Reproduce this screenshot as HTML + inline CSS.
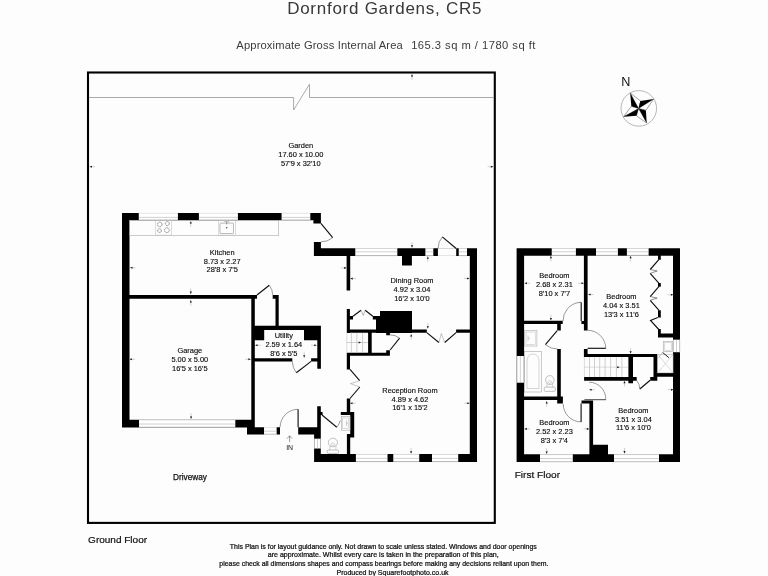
<!DOCTYPE html>
<html><head><meta charset="utf-8"><style>
html,body{margin:0;padding:0;background:#fdfdfd;}
svg{display:block;filter:grayscale(1);}
text{font-family:"Liberation Sans",sans-serif;}
</style></head><body>
<svg width="768" height="576" viewBox="0 0 768 576">
<rect width="768" height="576" fill="#fdfdfd"/>
<path fill="#000" d="M122,213H320.9V220.3H122ZM313.4,220H320.9V223.4H313.4ZM122,213H129.5V427.5H122ZM313.9,241.9H320.9V255.6H313.9ZM313.9,248.2H477V255.9H313.9ZM402,255H411.9V265.4H402ZM469.8,248.3H477V461.9H469.8ZM346.6,255.5H350.2V290.6H346.6ZM129.5,294.9H257V298.8H129.5ZM251.3,294.9H254.8V427.5H251.3ZM272.7,294.9H278.7V298.8H272.7ZM275.5,294.9H278.7V326H275.5ZM122,419.8H254.8V427.5H122ZM254.8,325.8H320.9V330H254.8ZM254.8,325.8H264.2V340.3H254.8ZM304,325.8H320.9V340.3H304ZM317.3,325.8H320.9V368.8H317.3ZM254.8,358.3H292.3V361.4H254.8ZM311.1,358.3H320.9V361.4H311.1ZM247,427.2H264.2V434.5H247ZM276.4,427.2H280V434.5H276.4ZM298.2,427.2H320.8V434.5H298.2ZM317.2,406.2H320.8V427.2H317.2ZM320.8,412H322.6V415H320.8ZM314.1,434.5H320.8V461.6H314.1ZM314.1,454.1H477V461.9H314.1ZM346.9,399.2H350.2V412H346.9ZM340.8,412H354.2V415.1H340.8ZM350.2,412H354.2V437.5H350.2ZM346.9,433.9H354.2V437.5H346.9ZM346.9,433.9H350.2V454.5H346.9ZM346.8,309H349.9V333H346.8ZM349.9,316H353V319.4H349.9ZM372.8,316H376V319.4H372.8ZM376,316H380V333H376ZM380,311.1H412V333H380ZM346.8,329.6H426.8V332.7H346.8ZM368.1,332.7H371.7V355.7H368.1ZM346.8,352.8H389.7V355.8H346.8ZM386.2,350.3H389.9V355.8H386.2ZM386.2,332.7H389.9V335.2H386.2ZM346.8,355.8H350V369.4H346.8ZM456.1,329.6H469.8V332.7H456.1ZM346.8,398.6H350.2V412H346.8ZM516.6,248.2H680V255.7H516.6ZM516.6,248.2H524.1V462H516.6ZM673,248.2H680V462H673ZM516.6,454.3H680V462H516.6ZM590.8,444.8H608V454.4H590.8ZM583.9,255.5H587.6V330.5H583.9ZM524.1,320.8H562.7V324H524.1ZM581.4,320.9H583.9V324H581.4ZM557.2,324H560.8V330.5H557.2ZM557.2,349H560.8V403.4H557.2ZM524.1,396.4H560.8V400H524.1ZM557.2,396.4H562.9V403.6H557.2ZM583.9,348.9H587.6V357.1H583.9ZM583.9,354H657.3V357H583.9ZM628.4,357.1H633V383.3H628.4ZM584.1,377.1H636.7V380.7H584.1ZM653.5,354H657.3V380.7H653.5ZM650.2,376.9H657.3V380.7H650.2ZM658,333.6H673.4V337.5H658ZM658,328.9H660.8V337.5H658ZM658,255.5H660.8V259.7H658ZM658,283.1H660.8V286.7H658ZM658,310.2H660.8V317.5H658ZM653.5,372.9H673.4V376.8H653.5ZM581.5,400.4H593.1V403.6H581.5ZM589.4,400.4H593.1V454.4H589.4Z"/>
<rect x="138.8" y="213" width="39.1" height="7.3" fill="#fff"/>
<line x1="138.8" y1="213.35" x2="177.9" y2="213.35" stroke="#d4d4d4" stroke-width="0.6"/>
<line x1="138.8" y1="220" x2="177.9" y2="220" stroke="#a0a0a0" stroke-width="0.7"/>
<line x1="138.8" y1="217.38" x2="177.9" y2="217.38" stroke="#b0b0b0" stroke-width="0.6"/>
<rect x="198.9" y="213" width="39" height="7.3" fill="#fff"/>
<line x1="198.9" y1="213.35" x2="237.9" y2="213.35" stroke="#d4d4d4" stroke-width="0.6"/>
<line x1="198.9" y1="220" x2="237.9" y2="220" stroke="#a0a0a0" stroke-width="0.7"/>
<line x1="198.9" y1="217.38" x2="237.9" y2="217.38" stroke="#b0b0b0" stroke-width="0.6"/>
<rect x="281.6" y="213" width="28.7" height="7.3" fill="#fff"/>
<line x1="281.6" y1="213.35" x2="310.3" y2="213.35" stroke="#d4d4d4" stroke-width="0.6"/>
<line x1="281.6" y1="220" x2="310.3" y2="220" stroke="#a0a0a0" stroke-width="0.7"/>
<line x1="281.6" y1="217.38" x2="310.3" y2="217.38" stroke="#b0b0b0" stroke-width="0.6"/>
<rect x="355.3" y="248.2" width="42" height="7.7" fill="#fff"/>
<line x1="355.3" y1="248.55" x2="397.3" y2="248.55" stroke="#d4d4d4" stroke-width="0.6"/>
<line x1="355.3" y1="255.6" x2="397.3" y2="255.6" stroke="#a0a0a0" stroke-width="0.7"/>
<line x1="355.3" y1="251.82" x2="397.3" y2="251.82" stroke="#b0b0b0" stroke-width="0.6"/>
<rect x="425.4" y="248.2" width="7.9" height="7.7" fill="#fff"/>
<line x1="425.4" y1="248.55" x2="433.3" y2="248.55" stroke="#d4d4d4" stroke-width="0.6"/>
<line x1="425.4" y1="255.6" x2="433.3" y2="255.6" stroke="#a0a0a0" stroke-width="0.7"/>
<line x1="425.4" y1="251.82" x2="433.3" y2="251.82" stroke="#b0b0b0" stroke-width="0.6"/>
<rect x="437.9" y="248.2" width="18.3" height="7.7" fill="#fdfdfd"/>
<rect x="458.75" y="248.2" width="8.25" height="7.7" fill="#fff"/>
<line x1="458.75" y1="248.55" x2="467" y2="248.55" stroke="#d4d4d4" stroke-width="0.6"/>
<line x1="458.75" y1="255.6" x2="467" y2="255.6" stroke="#a0a0a0" stroke-width="0.7"/>
<line x1="458.75" y1="251.82" x2="467" y2="251.82" stroke="#b0b0b0" stroke-width="0.6"/>
<rect x="139" y="419.8" width="96.3" height="7.7" fill="#fff"/>
<line x1="139" y1="420.15" x2="235.3" y2="420.15" stroke="#d4d4d4" stroke-width="0.6"/>
<line x1="139" y1="427.2" x2="235.3" y2="427.2" stroke="#a0a0a0" stroke-width="0.7"/>
<line x1="139" y1="424.04" x2="235.3" y2="424.04" stroke="#b0b0b0" stroke-width="0.6"/>
<rect x="264.2" y="427.2" width="12.2" height="7.3" fill="#fff"/>
<line x1="264.2" y1="427.55" x2="276.4" y2="427.55" stroke="#d4d4d4" stroke-width="0.6"/>
<line x1="264.2" y1="434.2" x2="276.4" y2="434.2" stroke="#a0a0a0" stroke-width="0.7"/>
<line x1="264.2" y1="431.21" x2="276.4" y2="431.21" stroke="#b0b0b0" stroke-width="0.6"/>
<rect x="314.1" y="438.7" width="6.7" height="9.8" fill="#fff"/>
<line x1="314.45" y1="438.7" x2="314.45" y2="448.5" stroke="#a0a0a0" stroke-width="0.7"/>
<line x1="320.45" y1="438.7" x2="320.45" y2="448.5" stroke="#a0a0a0" stroke-width="0.7"/>
<line x1="317.45" y1="438.7" x2="317.45" y2="448.5" stroke="#b0b0b0" stroke-width="0.6"/>
<rect x="355.9" y="454.1" width="31.6" height="7.8" fill="#fff"/>
<line x1="355.9" y1="454.45" x2="387.5" y2="454.45" stroke="#d4d4d4" stroke-width="0.6"/>
<line x1="355.9" y1="461.6" x2="387.5" y2="461.6" stroke="#a0a0a0" stroke-width="0.7"/>
<line x1="355.9" y1="458.39" x2="387.5" y2="458.39" stroke="#b0b0b0" stroke-width="0.6"/>
<rect x="393.3" y="454.1" width="25.9" height="7.8" fill="#fff"/>
<line x1="393.3" y1="454.45" x2="419.2" y2="454.45" stroke="#d4d4d4" stroke-width="0.6"/>
<line x1="393.3" y1="461.6" x2="419.2" y2="461.6" stroke="#a0a0a0" stroke-width="0.7"/>
<line x1="393.3" y1="458.39" x2="419.2" y2="458.39" stroke="#b0b0b0" stroke-width="0.6"/>
<rect x="432" y="454.1" width="26.2" height="7.8" fill="#fff"/>
<line x1="432" y1="454.45" x2="458.2" y2="454.45" stroke="#d4d4d4" stroke-width="0.6"/>
<line x1="432" y1="461.6" x2="458.2" y2="461.6" stroke="#a0a0a0" stroke-width="0.7"/>
<line x1="432" y1="458.39" x2="458.2" y2="458.39" stroke="#b0b0b0" stroke-width="0.6"/>
<rect x="551.75" y="248.2" width="24.15" height="7.5" fill="#fff"/>
<line x1="551.75" y1="248.55" x2="575.9" y2="248.55" stroke="#d4d4d4" stroke-width="0.6"/>
<line x1="551.75" y1="255.4" x2="575.9" y2="255.4" stroke="#a0a0a0" stroke-width="0.7"/>
<line x1="551.75" y1="251.72" x2="575.9" y2="251.72" stroke="#b0b0b0" stroke-width="0.6"/>
<rect x="596" y="248.2" width="21.9" height="7.5" fill="#fff"/>
<line x1="596" y1="248.55" x2="617.9" y2="248.55" stroke="#d4d4d4" stroke-width="0.6"/>
<line x1="596" y1="255.4" x2="617.9" y2="255.4" stroke="#a0a0a0" stroke-width="0.7"/>
<line x1="596" y1="251.72" x2="617.9" y2="251.72" stroke="#b0b0b0" stroke-width="0.6"/>
<rect x="626.9" y="248.2" width="21.7" height="7.5" fill="#fff"/>
<line x1="626.9" y1="248.55" x2="648.6" y2="248.55" stroke="#d4d4d4" stroke-width="0.6"/>
<line x1="626.9" y1="255.4" x2="648.6" y2="255.4" stroke="#a0a0a0" stroke-width="0.7"/>
<line x1="626.9" y1="251.72" x2="648.6" y2="251.72" stroke="#b0b0b0" stroke-width="0.6"/>
<rect x="516.6" y="356" width="7.5" height="26.7" fill="#fff"/>
<line x1="516.95" y1="356" x2="516.95" y2="382.7" stroke="#a0a0a0" stroke-width="0.7"/>
<line x1="523.75" y1="356" x2="523.75" y2="382.7" stroke="#a0a0a0" stroke-width="0.7"/>
<line x1="520.35" y1="356" x2="520.35" y2="382.7" stroke="#b0b0b0" stroke-width="0.6"/>
<rect x="673" y="339.7" width="7" height="12.5" fill="#fff"/>
<line x1="673.35" y1="339.7" x2="673.35" y2="352.2" stroke="#a0a0a0" stroke-width="0.7"/>
<line x1="679.65" y1="339.7" x2="679.65" y2="352.2" stroke="#a0a0a0" stroke-width="0.7"/>
<line x1="676.5" y1="339.7" x2="676.5" y2="352.2" stroke="#b0b0b0" stroke-width="0.6"/>
<rect x="540" y="454.3" width="32.8" height="7.7" fill="#fff"/>
<line x1="540" y1="454.65" x2="572.8" y2="454.65" stroke="#d4d4d4" stroke-width="0.6"/>
<line x1="540" y1="461.7" x2="572.8" y2="461.7" stroke="#a0a0a0" stroke-width="0.7"/>
<line x1="540" y1="458.54" x2="572.8" y2="458.54" stroke="#b0b0b0" stroke-width="0.6"/>
<rect x="614" y="454.3" width="45" height="7.7" fill="#fff"/>
<line x1="614" y1="454.65" x2="659" y2="454.65" stroke="#d4d4d4" stroke-width="0.6"/>
<line x1="614" y1="461.7" x2="659" y2="461.7" stroke="#a0a0a0" stroke-width="0.7"/>
<line x1="614" y1="458.54" x2="659" y2="458.54" stroke="#b0b0b0" stroke-width="0.6"/>
<text x="287.14" y="13.7" font-size="17.0" text-anchor="start" fill="#383838" textLength="194.25" lengthAdjust="spacing" >Dornford Gardens, CR5</text>
<text x="236.3" y="49.4" font-size="11.2" text-anchor="start" fill="#3a3a3a" textLength="166.53" lengthAdjust="spacing" >Approximate Gross Internal Area</text>
<text x="411.16" y="49.4" font-size="11.2" text-anchor="start" fill="#3a3a3a" textLength="124.23" lengthAdjust="spacing" >165.3 sq m / 1780 sq ft</text>
<rect x="88" y="72.5" width="406.8" height="450.4" fill="none" stroke="#000" stroke-width="2.1"/>
<path d="M89,97.5 H293.6 V110 L309.5,84.2 V97.5 H493.8" stroke="#a0a0a0" stroke-width="0.9" fill="none" />
<text x="300.8" y="148" font-size="7.45" text-anchor="middle" fill="#080808" stroke="#080808" stroke-width="0.12">Garden</text>
<text x="300.8" y="156.9" font-size="7.45" text-anchor="middle" fill="#080808" stroke="#080808" stroke-width="0.12">17.60 x 10.00</text>
<text x="300.8" y="165.8" font-size="7.45" text-anchor="middle" fill="#080808" stroke="#080808" stroke-width="0.12">57'9 x 32'10</text>
<line x1="412" y1="79.7" x2="412" y2="74.2" stroke="#aaa" stroke-width="0.55"/>
<polygon points="412,74.2 413.05,76.5 410.95,76.5" fill="#111"/>
<line x1="412" y1="242.1" x2="412" y2="247.6" stroke="#aaa" stroke-width="0.55"/>
<polygon points="412,247.6 410.95,245.3 413.05,245.3" fill="#111"/>
<line x1="95.1" y1="166.7" x2="89.6" y2="166.7" stroke="#aaa" stroke-width="0.55"/>
<polygon points="89.6,166.7 91.9,165.65 91.9,167.75" fill="#111"/>
<line x1="487.7" y1="166.7" x2="493.2" y2="166.7" stroke="#aaa" stroke-width="0.55"/>
<polygon points="493.2,166.7 490.9,167.75 490.9,165.65" fill="#111"/>
<circle cx="638.8" cy="108.4" r="17.8" fill="none" stroke="#999" stroke-width="0.7"/>
<text x="625.9" y="85.6" font-size="12.6" text-anchor="middle" fill="#111" >N</text>
<polygon points="630.2,93 640.76,101.21 638.6,108.5" fill="#fff" stroke="#444" stroke-width="0.5"/>
<polygon points="653.6,99 646.02,110.16 638.6,108.5" fill="#fff" stroke="#444" stroke-width="0.5"/>
<polygon points="646.7,123 636.53,115.81 638.6,108.5" fill="#fff" stroke="#444" stroke-width="0.5"/>
<polygon points="623.6,116.7 631.31,106.36 638.6,108.5" fill="#fff" stroke="#444" stroke-width="0.5"/>
<polygon points="630.2,93 631.31,106.34 638.6,108.5" fill="#000"/>
<polygon points="653.6,99 640.26,101.08 638.6,108.5" fill="#000"/>
<polygon points="646.7,123 645.91,110.57 638.6,108.5" fill="#000"/>
<polygon points="623.6,116.7 636.46,115.79 638.6,108.5" fill="#000"/>
<rect x="129.5" y="220.3" width="149.2" height="15" fill="none" stroke="#aaa" stroke-width="0.6"/>
<rect x="155.7" y="220.5" width="15.9" height="14.6" fill="none" stroke="#bbb" stroke-width="0.5"/>
<circle cx="159.8" cy="224.4" r="2.3" fill="none" stroke="#444" stroke-width="0.6" stroke-dasharray="1.2 0.5"/>
<circle cx="167.3" cy="223.6" r="2.0" fill="none" stroke="#444" stroke-width="0.6" stroke-dasharray="1.2 0.5"/>
<circle cx="159.5" cy="230.6" r="1.9" fill="none" stroke="#444" stroke-width="0.6" stroke-dasharray="1.2 0.5"/>
<circle cx="166.9" cy="230.2" r="2.4" fill="none" stroke="#444" stroke-width="0.6" stroke-dasharray="1.2 0.5"/>
<rect x="218.3" y="220.5" width="17.3" height="14.6" fill="none" stroke="#bbb" stroke-width="0.5"/>
<rect x="220" y="223.1" width="13.5" height="10.4" rx="0.8" fill="none" stroke="#777" stroke-width="0.5"/>
<circle cx="226.7" cy="227.8" r="0.7" fill="#333"/>
<path d="M224.6,222.2 L225.6,221 M228.8,222.2 L227.8,221 M226.7,221 V224.5" stroke="#444" stroke-width="0.5" fill="none" />
<line x1="320.9" y1="223.4" x2="332.7" y2="237.7" stroke="#111" stroke-width="1.15"/>
<path d="M332.7,237.7 A18.54,18.54 0 0 1 320.8,241.9" stroke="#555" stroke-width="0.6" fill="none" />
<line x1="456.2" y1="248.5" x2="442.3" y2="236.9" stroke="#111" stroke-width="1.15"/>
<path d="M442.3,236.9 A18.1,18.1 0 0 0 438.1,248.5" stroke="#555" stroke-width="0.6" fill="none" />
<line x1="257" y1="295" x2="269.3" y2="285.2" stroke="#111" stroke-width="1.15"/>
<path d="M269.3,285.2 A15.73,15.73 0 0 1 272.7,294.9" stroke="#555" stroke-width="0.6" fill="none" />
<line x1="311.1" y1="361.4" x2="296.3" y2="372.7" stroke="#111" stroke-width="1.15"/>
<path d="M296.3,372.7 A18.62,18.62 0 0 1 292.3,361.4" stroke="#555" stroke-width="0.6" fill="none" />
<line x1="298.1" y1="409.3" x2="298.1" y2="427.2" stroke="#111" stroke-width="1.15"/>
<path d="M298.1,409.3 A18,18 0 0 0 280.1,427.2" stroke="#555" stroke-width="0.6" fill="none" />
<path d="M289.6,442 V435.8 M287,438.6 L289.6,435.8 L292.2,438.6" stroke="#555" stroke-width="0.6" fill="none" />
<text x="289.6" y="450.3" font-size="6.9" text-anchor="middle" fill="#111" >IN</text>
<line x1="322" y1="415" x2="336.8" y2="427.2" stroke="#111" stroke-width="1.15"/>
<path d="M336.8,427.2 A19.18,19.18 0 0 0 340.4,420.3" stroke="#555" stroke-width="0.6" fill="none" />
<rect x="341.4" y="416.3" width="8.6" height="13.9" fill="none" stroke="#aaa" stroke-width="0.6"/>
<rect x="342.6" y="418" width="6" height="10.6" fill="none" stroke="#bbb" stroke-width="0.5"/>
<path d="M346.5,420.5 V426 M346.5,423.2 H348" stroke="#888" stroke-width="0.4" fill="none" />
<ellipse cx="332.9" cy="442.5" rx="4.6" ry="4.3" fill="none" stroke="#999" stroke-width="0.6"/>
<ellipse cx="332.9" cy="444.39" rx="1.84" ry="1.29" fill="none" stroke="#aaa" stroke-width="0.5"/>
<path d="M329.86,445.51 V450 M335.94,445.51 V450" stroke="#aaa" stroke-width="0.5" fill="none"/>
<rect x="327.2" y="450" width="11.4" height="3.4" rx="1.2" fill="none" stroke="#999" stroke-width="0.6"/>
<path d="M353,316.3 L361,310.2 M365.2,310.2 L372.8,316.3" stroke="#111" stroke-width="1.15" fill="none" />
<path d="M361,310.2 L363.3,315.5 L365.2,310.2" stroke="#777" stroke-width="0.5" fill="none" />
<line x1="351.4" y1="332.7" x2="351.4" y2="352.8" stroke="#aaa" stroke-width="0.55"/>
<line x1="356.9" y1="332.7" x2="356.9" y2="352.8" stroke="#aaa" stroke-width="0.55"/>
<line x1="362.6" y1="332.7" x2="362.6" y2="352.8" stroke="#aaa" stroke-width="0.55"/>
<line x1="346.8" y1="342.5" x2="368.1" y2="342.5" stroke="#aaa" stroke-width="0.55"/>
<line x1="346.8" y1="332.7" x2="346.8" y2="352.8" stroke="#bbb" stroke-width="0.5"/>
<line x1="358" y1="342.5" x2="361" y2="342.5" stroke="#aaa" stroke-width="0.55"/>
<polygon points="361,342.5 358.7,343.55 358.7,341.45" fill="#111"/>
<line x1="390.1" y1="350" x2="399.6" y2="338.2" stroke="#111" stroke-width="1.15"/>
<path d="M399.6,338.2 A15.2,15.2 0 0 0 389.9,334.8" stroke="#555" stroke-width="0.6" fill="none" />
<path d="M426.8,332.6 L438.9,342.5 M444.7,342.5 L456.1,332.6" stroke="#111" stroke-width="1.15" fill="none" />
<path d="M438.9,342.5 L441.35,333.5 L444.7,342.5" stroke="#888" stroke-width="0.5" fill="none" />
<path d="M350,369.4 L359.7,380.7 M359.8,387 L350,398.5" stroke="#111" stroke-width="1.15" fill="none" />
<path d="M359.7,380.7 L350.5,383.6 L359.8,387" stroke="#888" stroke-width="0.5" fill="none" />
<line x1="190.8" y1="226.8" x2="190.8" y2="221.3" stroke="#aaa" stroke-width="0.55"/>
<polygon points="190.8,221.3 191.85,223.6 189.75,223.6" fill="#111"/>
<line x1="135.7" y1="267.8" x2="130.2" y2="267.8" stroke="#aaa" stroke-width="0.55"/>
<polygon points="130.2,267.8 132.5,266.75 132.5,268.85" fill="#111"/>
<line x1="341" y1="267.9" x2="346.5" y2="267.9" stroke="#aaa" stroke-width="0.55"/>
<polygon points="346.5,267.9 344.2,268.95 344.2,266.85" fill="#111"/>
<line x1="190.8" y1="288.4" x2="190.8" y2="293.9" stroke="#aaa" stroke-width="0.55"/>
<polygon points="190.8,293.9 189.75,291.6 191.85,291.6" fill="#111"/>
<line x1="427.8" y1="261.9" x2="427.8" y2="256.4" stroke="#aaa" stroke-width="0.55"/>
<polygon points="427.8,256.4 428.85,258.7 426.75,258.7" fill="#111"/>
<line x1="355.9" y1="278.6" x2="350.4" y2="278.6" stroke="#aaa" stroke-width="0.55"/>
<polygon points="350.4,278.6 352.7,277.55 352.7,279.65" fill="#111"/>
<line x1="463.9" y1="278.5" x2="469.4" y2="278.5" stroke="#aaa" stroke-width="0.55"/>
<polygon points="469.4,278.5 467.1,279.55 467.1,277.45" fill="#111"/>
<line x1="427.8" y1="323" x2="427.8" y2="328.5" stroke="#aaa" stroke-width="0.55"/>
<polygon points="427.8,328.5 426.75,326.2 428.85,326.2" fill="#111"/>
<line x1="190.8" y1="305.7" x2="190.8" y2="300.2" stroke="#aaa" stroke-width="0.55"/>
<polygon points="190.8,300.2 191.85,302.5 189.75,302.5" fill="#111"/>
<line x1="135" y1="359.3" x2="129.5" y2="359.3" stroke="#aaa" stroke-width="0.55"/>
<polygon points="129.5,359.3 131.8,358.25 131.8,360.35" fill="#111"/>
<line x1="245.2" y1="359.3" x2="250.7" y2="359.3" stroke="#aaa" stroke-width="0.55"/>
<polygon points="250.7,359.3 248.4,360.35 248.4,358.25" fill="#111"/>
<line x1="191.1" y1="413.3" x2="191.1" y2="418.8" stroke="#aaa" stroke-width="0.55"/>
<polygon points="191.1,418.8 190.05,416.5 192.15,416.5" fill="#111"/>
<line x1="260.7" y1="345.3" x2="255.2" y2="345.3" stroke="#aaa" stroke-width="0.55"/>
<polygon points="255.2,345.3 257.5,344.25 257.5,346.35" fill="#111"/>
<line x1="311.1" y1="345.3" x2="316.6" y2="345.3" stroke="#aaa" stroke-width="0.55"/>
<polygon points="316.6,345.3 314.3,346.35 314.3,344.25" fill="#111"/>
<line x1="304.2" y1="352.1" x2="304.2" y2="357.6" stroke="#aaa" stroke-width="0.55"/>
<polygon points="304.2,357.6 303.15,355.3 305.25,355.3" fill="#111"/>
<line x1="411.2" y1="339.7" x2="411.2" y2="334.2" stroke="#aaa" stroke-width="0.55"/>
<polygon points="411.2,334.2 412.25,336.5 410.15,336.5" fill="#111"/>
<line x1="355.7" y1="403.2" x2="350.2" y2="403.2" stroke="#aaa" stroke-width="0.55"/>
<polygon points="350.2,403.2 352.5,402.15 352.5,404.25" fill="#111"/>
<line x1="464.1" y1="403.2" x2="469.6" y2="403.2" stroke="#aaa" stroke-width="0.55"/>
<polygon points="469.6,403.2 467.3,404.25 467.3,402.15" fill="#111"/>
<line x1="411.1" y1="448.1" x2="411.1" y2="453.6" stroke="#aaa" stroke-width="0.55"/>
<polygon points="411.1,453.6 410.05,451.3 412.15,451.3" fill="#111"/>
<text x="222.2" y="254.6" font-size="7.45" text-anchor="middle" fill="#080808" stroke="#080808" stroke-width="0.12">Kitchen</text>
<text x="222.2" y="263.5" font-size="7.45" text-anchor="middle" fill="#080808" stroke="#080808" stroke-width="0.12">8.73 x 2.27</text>
<text x="222.2" y="272.4" font-size="7.45" text-anchor="middle" fill="#080808" stroke="#080808" stroke-width="0.12">28'8 x 7'5</text>
<text x="412" y="283.4" font-size="7.45" text-anchor="middle" fill="#080808" stroke="#080808" stroke-width="0.12">Dining Room</text>
<text x="412" y="292.3" font-size="7.45" text-anchor="middle" fill="#080808" stroke="#080808" stroke-width="0.12">4.92 x 3.04</text>
<text x="412" y="301.2" font-size="7.45" text-anchor="middle" fill="#080808" stroke="#080808" stroke-width="0.12">16'2 x 10'0</text>
<text x="189.8" y="353.2" font-size="7.45" text-anchor="middle" fill="#080808" stroke="#080808" stroke-width="0.12">Garage</text>
<text x="189.8" y="362.1" font-size="7.45" text-anchor="middle" fill="#080808" stroke="#080808" stroke-width="0.12">5.00 x 5.00</text>
<text x="189.8" y="371" font-size="7.45" text-anchor="middle" fill="#080808" stroke="#080808" stroke-width="0.12">16'5 x 16'5</text>
<text x="283.8" y="338" font-size="7.45" text-anchor="middle" fill="#080808" stroke="#080808" stroke-width="0.12">Utility</text>
<text x="283.8" y="346.9" font-size="7.45" text-anchor="middle" fill="#080808" stroke="#080808" stroke-width="0.12">2.59 x 1.64</text>
<text x="283.8" y="355.8" font-size="7.45" text-anchor="middle" fill="#080808" stroke="#080808" stroke-width="0.12">8'6 x 5'5</text>
<text x="410" y="392.6" font-size="7.45" text-anchor="middle" fill="#080808" stroke="#080808" stroke-width="0.12">Reception Room</text>
<text x="410" y="401.5" font-size="7.45" text-anchor="middle" fill="#080808" stroke="#080808" stroke-width="0.12">4.89 x 4.62</text>
<text x="410" y="410.4" font-size="7.45" text-anchor="middle" fill="#080808" stroke="#080808" stroke-width="0.12">16'1 x 15'2</text>
<line x1="581.2" y1="302.4" x2="581.2" y2="321" stroke="#111" stroke-width="1.15"/>
<line x1="579.2" y1="302.4" x2="581.2" y2="302.4" stroke="#333" stroke-width="0.7"/>
<path d="M579.2,302.4 A18.6,18.6 0 0 0 563,321" stroke="#555" stroke-width="0.6" fill="none" />
<line x1="557.2" y1="330.6" x2="545.4" y2="344.7" stroke="#111" stroke-width="1.15"/>
<path d="M545.4,344.7 A18.39,18.39 0 0 0 557.4,349" stroke="#555" stroke-width="0.6" fill="none" />
<line x1="587.6" y1="348.3" x2="605.8" y2="348.3" stroke="#111" stroke-width="1.15"/>
<path d="M605.8,348.3 A18.2,18.2 0 0 0 587.6,330.3" stroke="#555" stroke-width="0.6" fill="none" />
<line x1="589.5" y1="357.1" x2="589.5" y2="377.1" stroke="#aaa" stroke-width="0.55"/>
<line x1="594.5" y1="357.1" x2="594.5" y2="377.1" stroke="#aaa" stroke-width="0.55"/>
<line x1="599.7" y1="357.1" x2="599.7" y2="377.1" stroke="#aaa" stroke-width="0.55"/>
<line x1="605.1" y1="357.1" x2="605.1" y2="377.1" stroke="#aaa" stroke-width="0.55"/>
<line x1="610.6" y1="357.1" x2="610.6" y2="377.1" stroke="#aaa" stroke-width="0.55"/>
<line x1="616.4" y1="357.1" x2="616.4" y2="377.1" stroke="#aaa" stroke-width="0.55"/>
<line x1="621.9" y1="357.1" x2="621.9" y2="377.1" stroke="#aaa" stroke-width="0.55"/>
<line x1="584.1" y1="367.2" x2="628.4" y2="367.2" stroke="#bbb" stroke-width="0.5"/>
<line x1="584.4" y1="357.1" x2="584.4" y2="377.1" stroke="#bbb" stroke-width="0.5"/>
<line x1="616.5" y1="367.2" x2="619.5" y2="367.2" stroke="#aaa" stroke-width="0.55"/>
<polygon points="619.5,367.2 617.2,368.25 617.2,366.15" fill="#111"/>
<line x1="650.2" y1="380.2" x2="639.8" y2="389" stroke="#111" stroke-width="1.15"/>
<path d="M639.8,389 A13.7,13.7 0 0 0 636.7,380.4" stroke="#555" stroke-width="0.6" fill="none" />
<path d="M658.8,259.7 L650.2,269.5 M650.2,273.4 L658.8,283.1" stroke="#111" stroke-width="1.15" fill="none" />
<path d="M650.2,269.5 L657.2,271 L650.2,273.4" stroke="#444" stroke-width="0.6" fill="none" />
<path d="M658.8,286.7 L650.2,296.6 M650.2,300.3 L658.8,310.2" stroke="#111" stroke-width="1.15" fill="none" />
<path d="M650.2,296.6 L657.2,298.1 L650.2,300.3" stroke="#444" stroke-width="0.6" fill="none" />
<path d="M657.8,317.5 L650.5,320.5 L658.8,329.5" stroke="#111" stroke-width="1.15" fill="none" />
<rect x="657.7" y="354.4" width="15.4" height="18.5" fill="none" stroke="#aaa" stroke-width="0.5"/>
<line x1="657.7" y1="354.4" x2="673.1" y2="372.9" stroke="#bbb" stroke-width="0.5"/>
<line x1="673.1" y1="354.4" x2="657.7" y2="372.9" stroke="#bbb" stroke-width="0.5"/>
<path d="M662.5,352.4 L668.9,357.7" stroke="#222" stroke-width="1.0" fill="none" />
<path d="M662.5,352.4 L658.3,358.3" stroke="#999" stroke-width="0.5" fill="none" />
<rect x="663.6" y="341.3" width="8.9" height="10.1" fill="none" stroke="#aaa" stroke-width="0.6"/>
<rect x="664.8" y="342.6" width="6.4" height="7.6" fill="none" stroke="#bbb" stroke-width="0.5"/>
<line x1="581.1" y1="403.6" x2="581.1" y2="421.9" stroke="#111" stroke-width="1.15"/>
<path d="M581.1,421.9 A17.9,17.9 0 0 1 563.2,404" stroke="#555" stroke-width="0.6" fill="none" />
<line x1="584.4" y1="399.7" x2="605.9" y2="399.7" stroke="#333" stroke-width="0.9"/>
<path d="M605.8,399.6 A16.8,16.8 0 0 0 589.2,382.2" stroke="#555" stroke-width="0.6" fill="none" />
<rect x="524.4" y="330.3" width="12.5" height="15.7" fill="none" stroke="#aaa" stroke-width="0.6"/>
<rect x="526" y="332" width="9.2" height="12.3" fill="none" stroke="#bbb" stroke-width="0.5"/>
<path d="M528,335.5 V341 M528,338.2 H530" stroke="#888" stroke-width="0.4" fill="none" />
<rect x="524.4" y="351.4" width="17.2" height="40.6" fill="none" stroke="#aaa" stroke-width="0.6"/>
<path d="M527,388.5 V362 Q527,354 533,354 Q539,354 539,362 V388.5 Z" stroke="#aaa" stroke-width="0.5" fill="none" />
<ellipse cx="549.8" cy="380.1" rx="4.2" ry="4.5" fill="none" stroke="#999" stroke-width="0.6"/>
<ellipse cx="549.8" cy="382.08" rx="1.68" ry="1.35" fill="none" stroke="#aaa" stroke-width="0.5"/>
<path d="M547.03,383.25 V387.1 M552.57,383.25 V387.1" stroke="#aaa" stroke-width="0.5" fill="none"/>
<rect x="544.2" y="387.1" width="11.2" height="4.3" rx="1.2" fill="none" stroke="#999" stroke-width="0.6"/>
<line x1="550.9" y1="261.4" x2="550.9" y2="255.9" stroke="#aaa" stroke-width="0.55"/>
<polygon points="550.9,255.9 551.95,258.2 549.85,258.2" fill="#111"/>
<line x1="530.1" y1="283.2" x2="524.6" y2="283.2" stroke="#aaa" stroke-width="0.55"/>
<polygon points="524.6,283.2 526.9,282.15 526.9,284.25" fill="#111"/>
<line x1="578.3" y1="283.2" x2="583.8" y2="283.2" stroke="#aaa" stroke-width="0.55"/>
<polygon points="583.8,283.2 581.5,284.25 581.5,282.15" fill="#111"/>
<line x1="550.9" y1="314.8" x2="550.9" y2="320.3" stroke="#aaa" stroke-width="0.55"/>
<polygon points="550.9,320.3 549.85,318 551.95,318" fill="#111"/>
<line x1="593.7" y1="294.5" x2="588.2" y2="294.5" stroke="#aaa" stroke-width="0.55"/>
<polygon points="588.2,294.5 590.5,293.45 590.5,295.55" fill="#111"/>
<line x1="667.7" y1="294.8" x2="673.2" y2="294.8" stroke="#aaa" stroke-width="0.55"/>
<polygon points="673.2,294.8 670.9,295.85 670.9,293.75" fill="#111"/>
<line x1="630.6" y1="261.5" x2="630.6" y2="256" stroke="#aaa" stroke-width="0.55"/>
<polygon points="630.6,256 631.65,258.3 629.55,258.3" fill="#111"/>
<line x1="630.6" y1="348" x2="630.6" y2="353.5" stroke="#aaa" stroke-width="0.55"/>
<polygon points="630.6,353.5 629.55,351.2 631.65,351.2" fill="#111"/>
<line x1="546.7" y1="406.7" x2="546.7" y2="401.2" stroke="#aaa" stroke-width="0.55"/>
<polygon points="546.7,401.2 547.75,403.5 545.65,403.5" fill="#111"/>
<line x1="530" y1="428.9" x2="524.5" y2="428.9" stroke="#aaa" stroke-width="0.55"/>
<polygon points="524.5,428.9 526.8,427.85 526.8,429.95" fill="#111"/>
<line x1="583.6" y1="428.9" x2="589.1" y2="428.9" stroke="#aaa" stroke-width="0.55"/>
<polygon points="589.1,428.9 586.8,429.95 586.8,427.85" fill="#111"/>
<line x1="546.7" y1="448.2" x2="546.7" y2="453.7" stroke="#aaa" stroke-width="0.55"/>
<polygon points="546.7,453.7 545.65,451.4 547.75,451.4" fill="#111"/>
<line x1="594.8" y1="389.7" x2="589.3" y2="389.7" stroke="#aaa" stroke-width="0.55"/>
<polygon points="589.3,389.7 591.6,388.65 591.6,390.75" fill="#111"/>
<line x1="667.8" y1="389.7" x2="673.3" y2="389.7" stroke="#aaa" stroke-width="0.55"/>
<polygon points="673.3,389.7 671,390.75 671,388.65" fill="#111"/>
<line x1="624.5" y1="386.4" x2="624.5" y2="380.9" stroke="#aaa" stroke-width="0.55"/>
<polygon points="624.5,380.9 625.55,383.2 623.45,383.2" fill="#111"/>
<line x1="624.5" y1="447.9" x2="624.5" y2="453.4" stroke="#aaa" stroke-width="0.55"/>
<polygon points="624.5,453.4 623.45,451.1 625.55,451.1" fill="#111"/>
<text x="554.4" y="278.2" font-size="7.45" text-anchor="middle" fill="#080808" stroke="#080808" stroke-width="0.12">Bedroom</text>
<text x="554.4" y="287.1" font-size="7.45" text-anchor="middle" fill="#080808" stroke="#080808" stroke-width="0.12">2.68 x 2.31</text>
<text x="554.4" y="296" font-size="7.45" text-anchor="middle" fill="#080808" stroke="#080808" stroke-width="0.12">8'10 x 7'7</text>
<text x="621.4" y="299" font-size="7.45" text-anchor="middle" fill="#080808" stroke="#080808" stroke-width="0.12">Bedroom</text>
<text x="621.4" y="307.9" font-size="7.45" text-anchor="middle" fill="#080808" stroke="#080808" stroke-width="0.12">4.04 x 3.51</text>
<text x="621.4" y="316.8" font-size="7.45" text-anchor="middle" fill="#080808" stroke="#080808" stroke-width="0.12">13'3 x 11'6</text>
<text x="554.4" y="425.1" font-size="7.45" text-anchor="middle" fill="#080808" stroke="#080808" stroke-width="0.12">Bedroom</text>
<text x="554.4" y="434" font-size="7.45" text-anchor="middle" fill="#080808" stroke="#080808" stroke-width="0.12">2.52 x 2.23</text>
<text x="554.4" y="442.9" font-size="7.45" text-anchor="middle" fill="#080808" stroke="#080808" stroke-width="0.12">8'3 x 7'4</text>
<text x="633.4" y="412.6" font-size="7.45" text-anchor="middle" fill="#080808" stroke="#080808" stroke-width="0.12">Bedroom</text>
<text x="633.4" y="421.5" font-size="7.45" text-anchor="middle" fill="#080808" stroke="#080808" stroke-width="0.12">3.51 x 3.04</text>
<text x="633.4" y="430.4" font-size="7.45" text-anchor="middle" fill="#080808" stroke="#080808" stroke-width="0.12">11'6 x 10'0</text>
<text x="173.04" y="479.9" font-size="8.5" text-anchor="start" fill="#111" textLength="33.88" lengthAdjust="spacingAndGlyphs" stroke="#111" stroke-width="0.25">Driveway</text>
<text x="88.1" y="542.8" font-size="9.6" text-anchor="start" fill="#111" textLength="58.97" lengthAdjust="spacingAndGlyphs" stroke="#111" stroke-width="0.2">Ground Floor</text>
<text x="514.69" y="477.9" font-size="9.7" text-anchor="start" fill="#111" textLength="45.31" lengthAdjust="spacingAndGlyphs" stroke="#111" stroke-width="0.2">First Floor</text>
<text x="229.86" y="548.8" font-size="6.6" text-anchor="start" fill="#111" textLength="306.97" lengthAdjust="spacingAndGlyphs" stroke="#111" stroke-width="0.22">This Plan is for layout guidance only. Not drawn to scale unless stated. Windows and door openings</text>
<text x="267.72" y="557.4" font-size="6.6" text-anchor="start" fill="#111" textLength="231.01" lengthAdjust="spacingAndGlyphs" stroke="#111" stroke-width="0.22">are approximate. Whilst every care is taken in the preparation of this plan,</text>
<text x="219.35" y="565.7" font-size="6.6" text-anchor="start" fill="#111" textLength="329.10" lengthAdjust="spacingAndGlyphs" stroke="#111" stroke-width="0.22">please check all dimensions shapes and compass bearings before making any decisions reliant upon them.</text>
<text x="336.44" y="574.5" font-size="6.6" text-anchor="start" fill="#111" textLength="112.17" lengthAdjust="spacingAndGlyphs" stroke="#111" stroke-width="0.22">Produced by Squarefootphoto.co.uk</text>
</svg>
</body></html>
